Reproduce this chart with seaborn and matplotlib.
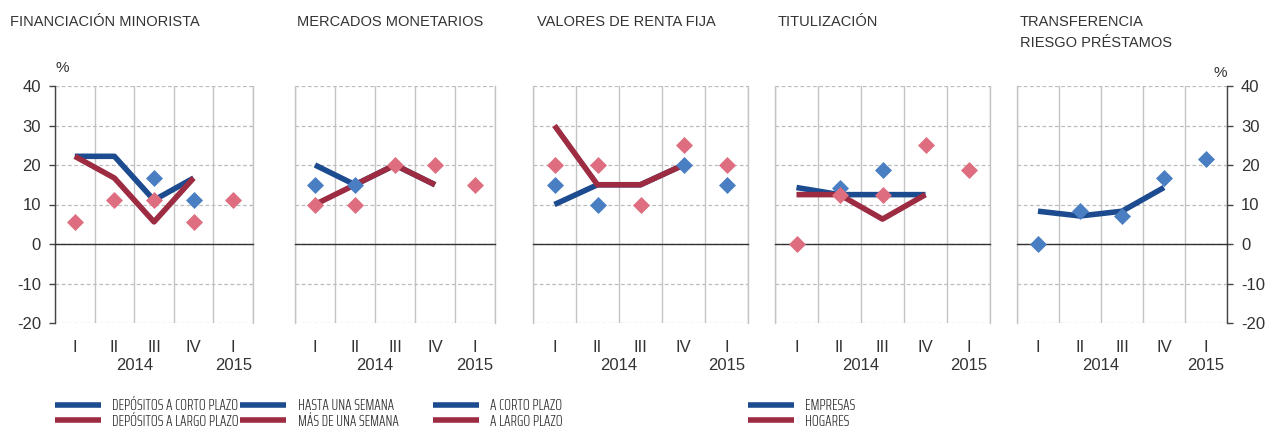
import numpy as np
import pandas as pd
import seaborn as sns
import matplotlib.pyplot as plt
from matplotlib.lines import Line2D

nan = np.nan

## categories
quarters = ["I", "II", "III", "IV", "I"]
years = ["2014", "2015"]

titles = ["FINANCIACIÓN MINORISTA", "MERCADOS MONETARIOS", "VALORES DE RENTA FIJA",
          "TITULIZACIÓN", "TRANSFERENCIA\nRIESGO PRÉSTAMOS"]

## series (lines = observed, diamonds = expected)
p1_corto_line = [22.2, 22.2, 11.1, 16.7, nan]
p1_largo_line = [22.2, 16.7, 5.6, 16.7, nan]
p1_corto_pt = [nan, nan, 16.7, 11.1, nan]
p1_largo_pt = [5.6, 11.1, 11.1, 5.6, 11.1]

p2_hasta_line = [20, 15, 20, 15, nan]
p2_mas_line = [10, 15, 20, 15, nan]
p2_hasta_pt = [15, 15, nan, nan, nan]
p2_mas_pt = [10, 10, 20, 20, 15]

p3_corto_line = [10, 15, 15, 20, nan]
p3_largo_line = [30, 15, 15, 20, nan]
p3_corto_pt = [15, 10, nan, 20, 15]
p3_largo_pt = [20, 20, 10, 25, 20]

p4_emp_line = [14.3, 12.5, 12.5, 12.5, nan]
p4_hog_line = [12.5, 12.5, 6.3, 12.5, nan]
p4_emp_pt = [nan, 14.3, 18.8, nan, nan]
p4_hog_pt = [0, 12.5, 12.5, 25, 18.8]

p5_line = [8.3, 7.1, 8.3, 14.3, nan]
p5_pt = [0, 8.3, 7.1, 16.7, 21.4]

legend_labels = [["DEPÓSITOS A CORTO PLAZO", "DEPÓSITOS A LARGO PLAZO"],
                 ["HASTA UNA SEMANA", "MÁS DE UNA SEMANA"],
                 ["A CORTO PLAZO", "A LARGO PLAZO"],
                 ["EMPRESAS", "HOGARES"]]

BLUE = "#1d4b8f"
RED = "#9d2b41"
LBLUE = "#4a7ec2"
PINK = "#de6d7f"
TXT = "#333333"

sns.set_theme(style="white")
plt.rcParams['font.family'] = ['Liberation Sans', 'DejaVu Sans']
plt.rcParams['axes.unicode_minus'] = False

W, H = 1271, 428
fig = plt.figure(figsize=(W / 100, H / 100), dpi=100)

panel_px = [(55, 253), (295, 495), (533, 748), (775, 990), (1017, 1227)]
top_px, bot_px = 86, 323
title_x = [10, 297, 537, 778, 1020]

panels = [
    (p1_corto_line, p1_largo_line, p1_corto_pt, p1_largo_pt),
    (p2_hasta_line, p2_mas_line, p2_hasta_pt, p2_mas_pt),
    (p3_corto_line, p3_largo_line, p3_corto_pt, p3_largo_pt),
    (p4_emp_line, p4_hog_line, p4_emp_pt, p4_hog_pt),
    (p5_line, None, p5_pt, None),
]

xpos = np.arange(5)
for i, (l, r) in enumerate(panel_px):
    ax = fig.add_axes([l / W, 1 - bot_px / H, (r - l) / W, (bot_px - top_px) / H])
    blue_line, red_line, blue_pt, red_pt = panels[i]
    df = pd.DataFrame({'x': xpos, 'bl': blue_line, 'bp': blue_pt})
    sns.lineplot(data=df, x='x', y='bl', color=BLUE, lw=4, ax=ax, zorder=3,
                 solid_capstyle='butt')
    if red_line is not None:
        df['rl'] = red_line
        sns.lineplot(data=df, x='x', y='rl', color=RED, lw=4, ax=ax, zorder=4,
                     solid_capstyle='butt')
    sns.scatterplot(data=df, x='x', y='bp', color=LBLUE, marker='D', s=75,
                    linewidth=0, ax=ax, zorder=5)
    if red_pt is not None:
        df['rp'] = red_pt
        sns.scatterplot(data=df, x='x', y='rp', color=PINK, marker='D', s=75,
                        linewidth=0, ax=ax, zorder=6)

    ax.set_xlim(-0.5, 4.5)
    ax.set_ylim(-20, 40)
    ax.set_xlabel('')
    ax.set_ylabel('')
    ax.set_yticks(np.arange(-20, 41, 10))
    ax.set_xticks(np.arange(-0.5, 4.6, 1))
    ax.set_xticklabels([])
    ax.grid(axis='y', color='#bdbdbd', ls=(0, (3, 2)), lw=0.9)
    ax.grid(axis='x', color='#c4c4c4', ls='-', lw=1.0)
    ax.spines['top'].set_visible(False)
    ax.spines['bottom'].set_position(('data', 0))
    ax.spines['bottom'].set_color('#333333')
    ax.spines['bottom'].set_linewidth(1.0)
    ax.tick_params(axis='x', direction='inout', length=7, width=1.0, color='#333333')
    for s in ['left', 'right']:
        ax.spines[s].set_color('#c4c4c4')
        ax.spines[s].set_linewidth(1.0)

    if i == 0:
        ax.spines['left'].set_color('#444444')
        ax.tick_params(axis='y', left=True, length=4, width=1.0, color='#444444',
                       labelsize=12, labelcolor=TXT, pad=6)
    elif i == 4:
        ax.spines['right'].set_color('#444444')
        ax.yaxis.tick_right()
        ax.tick_params(axis='y', right=True, left=False, length=4, width=1.0,
                       color='#444444', labelsize=12, labelcolor=TXT, pad=6)
    else:
        ax.tick_params(axis='y', left=False, labelleft=False)

    sec = ax.secondary_xaxis(0)
    sec.set_xticks(xpos, quarters)
    sec.tick_params(length=0, pad=12, labelsize=12, labelcolor=TXT)
    sec.spines['bottom'].set_visible(False)
    ax.text(1.5, -0.18, years[0], transform=ax.get_xaxis_transform(),
            ha='center', va='center', fontsize=12, color=TXT)
    ax.text(4, -0.18, years[1], transform=ax.get_xaxis_transform(),
            ha='center', va='center', fontsize=12, color=TXT)

    fig.text(title_x[i] / W, 1 - 15 / H, titles[i], ha='left', va='top',
             fontsize=10.5, color=TXT, linespacing=1.6)

fig.text(62 / W, 1 - 68 / H, "%", ha='center', va='center', fontsize=11, color=TXT)
fig.text(1220 / W, 1 - 73 / H, "%", ha='center', va='center', fontsize=11, color=TXT)

## legend groups
leg_x = [55, 240, 433, 748]
for gx, labs in zip(leg_x, legend_labels):
    handles = [Line2D([], [], color=BLUE, lw=4, solid_capstyle='butt'),
               Line2D([], [], color=RED, lw=4, solid_capstyle='butt')]
    fig.legend(handles, labs, loc='center left', bbox_to_anchor=(gx / W, 1 - 414 / H),
               frameon=False, borderpad=0, borderaxespad=0, handlelength=2.85,
               handletextpad=0.75, labelspacing=0.1,
               prop={'family': ['Saira ExtraCondensed', 'Fira Sans Extra Condensed', 'DejaVu Sans'],
                     'weight': 300, 'size': 11.5},
               labelcolor=TXT)

fig.savefig('out.png', dpi=100)
